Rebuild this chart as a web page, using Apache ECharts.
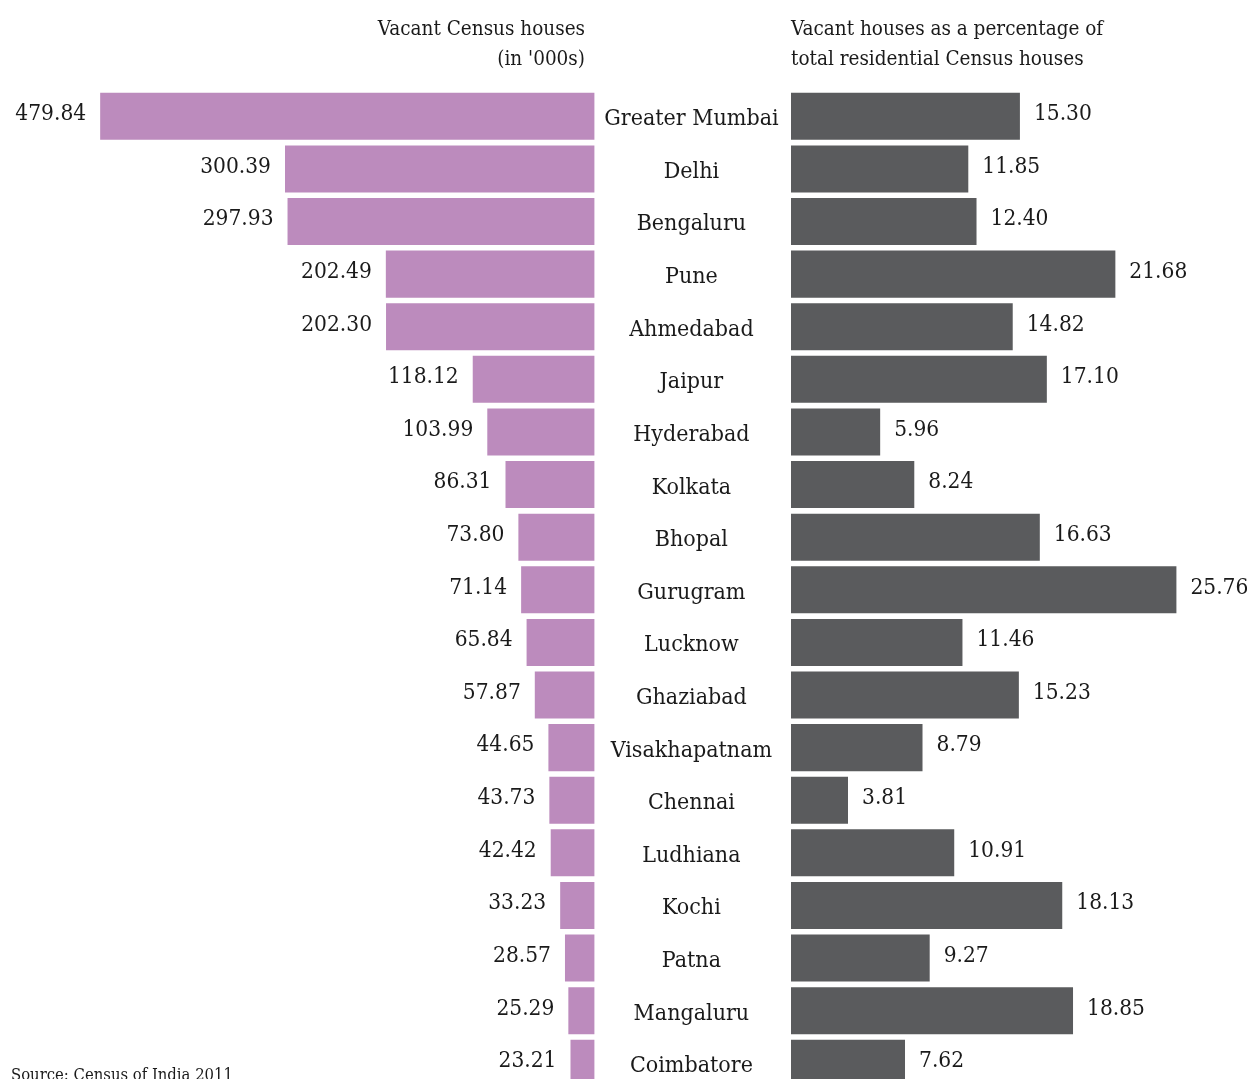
<!DOCTYPE html>
<html>
<head>
<meta charset="utf-8">
<style>
  html, body { margin: 0; padding: 0; background: #ffffff; overflow: hidden; }
  #chart { width: 1247px; height: 1100px; }
</style>
<script src="https://cdn.jsdelivr.net/npm/echarts@6/dist/echarts.min.js"></script>
</head>
<body>
<div id="chart"></div>
<script>
// City rows, top to bottom
const cities = [
  'Greater Mumbai', 'Delhi', 'Bengaluru', 'Pune', 'Ahmedabad', 'Jaipur',
  'Hyderabad', 'Kolkata', 'Bhopal', 'Gurugram', 'Lucknow', 'Ghaziabad',
  'Visakhapatnam', 'Chennai', 'Ludhiana', 'Kochi', 'Patna', 'Mangaluru', 'Coimbatore'
];
// Vacant Census houses, in thousands
const vacantHouses = [
  479.84, 300.39, 297.93, 202.49, 202.30, 118.12,
  103.99, 86.31, 73.80, 71.14, 65.84, 57.87,
  44.65, 43.73, 42.42, 33.23, 28.57, 25.29, 23.21
];
// Vacant houses as % of total residential Census houses
const vacantShare = [
  15.30, 11.85, 12.40, 21.68, 14.82, 17.10,
  5.96, 8.24, 16.63, 25.76, 11.46, 15.23,
  8.79, 3.81, 10.91, 18.13, 9.27, 18.85, 7.62
];
const leftTitle = ['Vacant Census houses', "(in '000s)"];
const rightTitle = ['Vacant houses as a percentage of', 'total residential Census houses'];
const sourceNote = 'Source: Census of India 2011';

const FONT = '"DejaVu Serif Condensed", "Liberation Serif", serif';
const PURPLE = '#bc8bbd';
const GREY = '#5a5b5d';
const TEXT = '#1a1a1a';

const chart = echarts.init(document.getElementById('chart'), null, { renderer: 'canvas' });

// 19 rows at ~52.6px pitch; the last row runs past the visible page edge
const gridTop = 90;
const gridHeight = 999.6;

chart.setOption({
  animation: false,
  backgroundColor: '#ffffff',
  textStyle: { fontFamily: FONT },
  grid: [
    { left: 100, width: 494.4, top: gridTop, height: gridHeight, containLabel: false },
    { left: 791, width: 389, top: gridTop, height: gridHeight, containLabel: false }
  ],
  xAxis: [
    { gridIndex: 0, type: 'value', inverse: true, min: 0, max: 480, show: false },
    { gridIndex: 1, type: 'value', min: 0, max: 26, show: false }
  ],
  yAxis: [
    {
      gridIndex: 0, type: 'category', data: cities, inverse: true, position: 'right',
      axisLine: { show: false }, axisTick: { show: false }, splitLine: { show: false },
      axisLabel: {
        show: true, align: 'center', margin: 97,
        formatter: v => '{c|' + v + '}',
        rich: {
          c: { fontFamily: FONT, fontSize: 23, color: TEXT, padding: [6, 0, 0, 0] }
        }
      }
    },
    {
      gridIndex: 1, type: 'category', data: cities, inverse: true,
      axisLine: { show: false }, axisTick: { show: false }, splitLine: { show: false },
      axisLabel: { show: false }
    }
  ],
  series: [
    {
      type: 'bar', xAxisIndex: 0, yAxisIndex: 0, data: vacantHouses,
      barCategoryGap: '10.6%',
      itemStyle: { color: PURPLE },
      label: {
        show: true, position: 'left', distance: 14, offset: [0, -2],
        fontFamily: FONT, fontSize: 22.5, color: TEXT,
        formatter: p => p.value.toFixed(2)
      }
    },
    {
      type: 'bar', xAxisIndex: 1, yAxisIndex: 1, data: vacantShare,
      barCategoryGap: '10.6%',
      itemStyle: { color: GREY },
      label: {
        show: true, position: 'right', distance: 14, offset: [0, -2],
        fontFamily: FONT, fontSize: 22.5, color: TEXT,
        formatter: p => p.value.toFixed(2)
      }
    }
  ],
  graphic: [
    {
      type: 'text', x: 585, y: 30,
      style: {
        text: leftTitle[0], fontFamily: FONT, fontSize: 20.5,
        fill: TEXT, align: 'right', verticalAlign: 'middle'
      }
    },
    {
      type: 'text', x: 585, y: 60,
      style: {
        text: leftTitle[1], fontFamily: FONT, fontSize: 20.5,
        fill: TEXT, align: 'right', verticalAlign: 'middle'
      }
    },
    {
      type: 'text', x: 791, y: 30,
      style: {
        text: rightTitle[0], fontFamily: FONT, fontSize: 20.5,
        fill: TEXT, align: 'left', verticalAlign: 'middle'
      }
    },
    {
      type: 'text', x: 791, y: 60,
      style: {
        text: rightTitle[1], fontFamily: FONT, fontSize: 20.5,
        fill: TEXT, align: 'left', verticalAlign: 'middle'
      }
    },
    {
      type: 'text', x: 11, y: 1067,
      style: { text: sourceNote, fontFamily: FONT, fontSize: 16.5, fill: TEXT }
    }
  ]
});
</script>
</body>
</html>
